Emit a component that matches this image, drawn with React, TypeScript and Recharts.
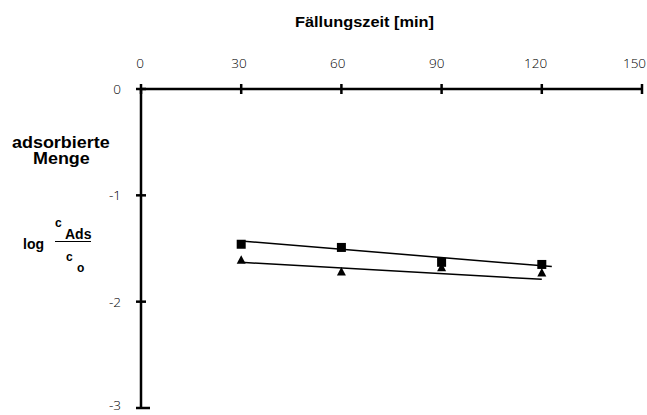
import React from "react";
import { ComposedChart, XAxis, YAxis, Scatter, Line } from "recharts";

// Fällungszeit [min] und log(c_Ads/c_o)
const zeitTicks = [0, 30, 60, 90, 120, 150];
const mengeTicks = [0, -1, -2, -3];
const zeit = [30, 60, 90, 120];
const quadrate = [-1.46, -1.49, -1.63, -1.65];
const dreiecke = [-1.61, -1.72, -1.68, -1.73];
// Ausgleichsgeraden (Endpunkte)
const fitQuadratX = [30, 123];
const fitQuadratY = [-1.43, -1.67];
const fitDreieckX = [30, 120];
const fitDreieckY = [-1.63, -1.79];

const toRows = (xs: number[], ys: number[]) => xs.map((x, i) => ({ x, y: ys[i] }));

// keine Scrollleiste: Seite genau 647x415
if (typeof document !== "undefined") {
  document.body.style.margin = "0";
  document.body.style.overflow = "hidden";
}

const TICK_FONT = { fontFamily: "'Open Sans', sans-serif", fontWeight: 300, fontSize: 13.5, fill: "#000" };
const LABEL_FONT: React.CSSProperties = {
  fontFamily: "'Liberation Sans', Arial, sans-serif",
  fontWeight: 700,
  fontSize: 15,
  color: "#000",
  position: "absolute",
  whiteSpace: "nowrap",
  lineHeight: 1,
  transformOrigin: "left top",
};

const XTick = (p: any) => {
  const ay = p.y + 16;
  const dx = -1 - p.index * 1.3;
  return (
    <g>
      <line x1={p.x} x2={p.x} y1={ay - 5} y2={ay + 5} stroke="#000" strokeWidth={2.5} />
      <text x={p.x + dx} y={p.y - 5} textAnchor="middle" {...TICK_FONT}>{p.payload.value}</text>
    </g>
  );
};

const YTick = (p: any) => {
  const ax = p.x + 20;
  const last = p.payload.value === -3;
  return (
    <g>
      <line x1={ax - 5} x2={ax + (last ? 9 : 5)} y1={p.y} y2={p.y} stroke="#000" strokeWidth={2.5} />
      <text x={p.x} y={p.y + (last ? 2 : 5)} textAnchor="end" {...TICK_FONT}>{p.payload.value}</text>
    </g>
  );
};

const Square = (p: any) => <rect x={p.cx - 4.5} y={p.cy - 4.5} width={9} height={9} fill="#000" />;
const Triangle = (p: any) => (
  <polygon points={`${p.cx},${p.cy - 5} ${p.cx - 4.5},${p.cy + 3.5} ${p.cx + 4.5},${p.cy + 3.5}`} fill="#000" />
);

export default function App() {
  return (
    <div style={{ width: 647, height: 415, background: "#fff", overflow: "hidden" }}>
      <div style={{ position: "relative", left: 8, top: 8, width: 639, height: 407 }}>
        <ComposedChart width={639} height={407} margin={{ top: 51, right: 5, bottom: 7, left: 93 }} style={{ overflow: "visible" }}>
          <XAxis
            xAxisId={0}
            type="number"
            dataKey="x"
            orientation="top"
            domain={[0, 150]}
            ticks={zeitTicks}
            height={30}
            tickSize={0}
            tickMargin={16}
            tickLine={false}
            axisLine={{ stroke: "#000", strokeWidth: 2.5 }}
            tick={XTick}
            interval={0}
            allowDataOverflow
          />
          <YAxis
            yAxisId={0}
            type="number"
            dataKey="y"
            domain={[-3, 0]}
            ticks={mengeTicks}
            width={40}
            tickSize={0}
            tickMargin={20}
            tickLine={false}
            axisLine={{ stroke: "#000", strokeWidth: 2.5 }}
            tick={YTick}
            interval={0}
            allowDataOverflow
          />
          <Line data={toRows(fitQuadratX, fitQuadratY)} dataKey="y" stroke="#000" strokeWidth={1.5} dot={false} isAnimationActive={false} />
          <Line data={toRows(fitDreieckX, fitDreieckY)} dataKey="y" stroke="#000" strokeWidth={1.5} dot={false} isAnimationActive={false} />
          <Scatter data={toRows(zeit, quadrate)} dataKey="y" shape={Square} isAnimationActive={false} />
          <Scatter data={toRows(zeit, dreiecke)} dataKey="y" shape={Triangle} isAnimationActive={false} />
        </ComposedChart>
        <div style={{ ...LABEL_FONT, left: 287, top: 6, transform: "scaleX(1.09)" }}>Fällungszeit [min]</div>
        <div style={{ ...LABEL_FONT, left: 4, top: 127, fontSize: 16, transform: "scaleX(1.12)" }}>adsorbierte</div>
        <div style={{ ...LABEL_FONT, left: 25, top: 143, fontSize: 16, transform: "scaleX(1.12)" }}>Menge</div>
        <div style={{ ...LABEL_FONT, left: 15, top: 229, fontSize: 14 }}>log</div>
        <div style={{ ...LABEL_FONT, left: 47, top: 209, fontSize: 12 }}>c</div>
        <div style={{ ...LABEL_FONT, left: 47, top: 219, fontSize: 14, borderBottom: "1.3px solid #000", paddingLeft: 10 }}>Ads</div>
        <div style={{ ...LABEL_FONT, left: 58, top: 243, fontSize: 12 }}>c</div>
        <div style={{ ...LABEL_FONT, left: 69, top: 254, fontSize: 12 }}>o</div>
      </div>
    </div>
  );
}
